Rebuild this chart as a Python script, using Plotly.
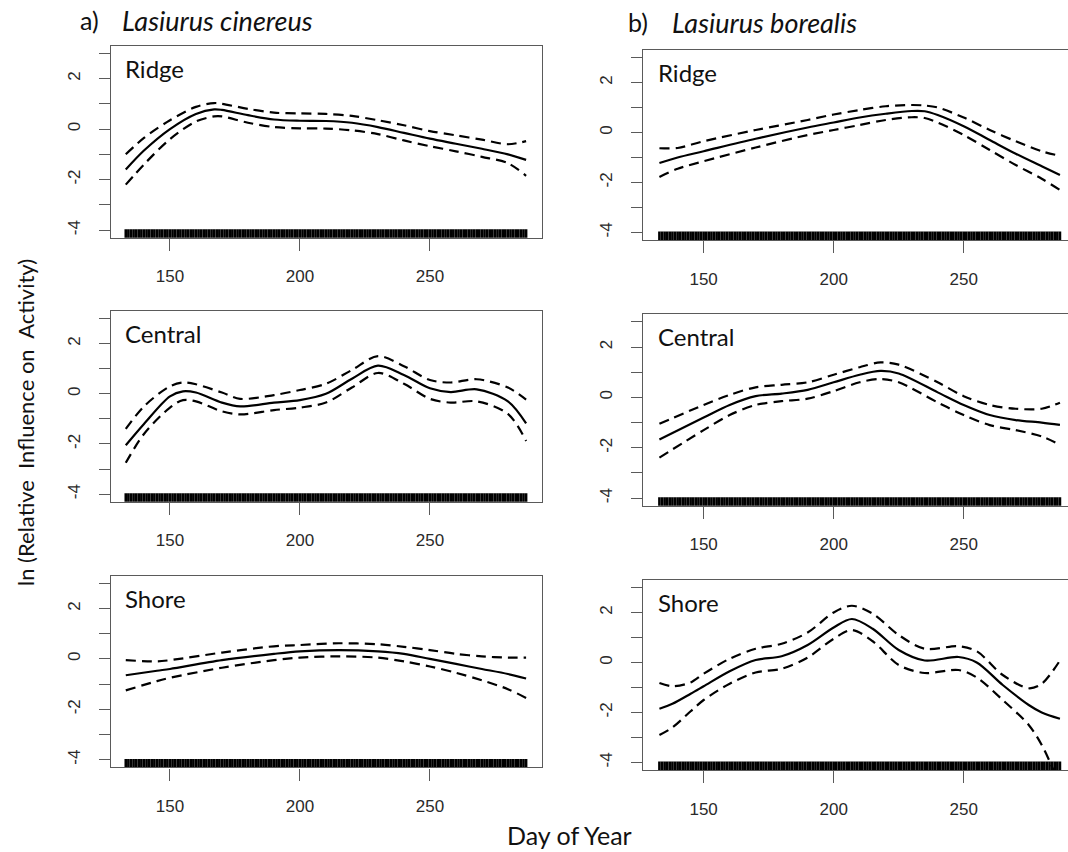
import plotly.graph_objects as go

# ---------------- data ----------------
FIRST_DAY = 133
LAST_DAY = 287
rug_days = list(range(FIRST_DAY, LAST_DAY + 1))

ytick_vals = [-4, -3, -2, -1, 0, 1, 2, 3]
ytick_text = ["-4", "", "-2", "", "0", "", "2", ""]
xtick_vals = [150, 200, 250]
xtick_text = ["150", "200", "250"]

species_titles = ["Lasiurus cinereus", "Lasiurus borealis"]
species_letters = ["a)", "b)"]
habitats = ["Ridge", "Central", "Shore"]

# a) Lasiurus cinereus - Ridge
a_ridge_x = [133, 140, 150, 160, 167, 170, 180, 190, 200, 210, 220, 230, 240, 250, 260, 270, 280, 287]
a_ridge_fit = [-1.6, -0.85, 0.0, 0.6, 0.78, 0.76, 0.55, 0.38, 0.33, 0.32, 0.25, 0.08, -0.15, -0.38, -0.58, -0.78, -1.0, -1.22]
a_ridge_up = [-1.0, -0.35, 0.35, 0.88, 1.03, 1.0, 0.8, 0.65, 0.62, 0.6, 0.52, 0.35, 0.15, -0.08, -0.25, -0.42, -0.6, -0.48]
a_ridge_lo = [-2.2, -1.4, -0.4, 0.3, 0.5, 0.5, 0.25, 0.08, 0.03, 0.02, -0.05, -0.2, -0.45, -0.68, -0.88, -1.1, -1.35, -1.85]

# a) Central
a_central_x = [133, 140, 150, 155, 160, 170, 177, 190, 200, 210, 220, 230, 240, 250, 258, 268, 280, 287]
a_central_fit = [-2.05, -1.2, -0.1, 0.1, 0.05, -0.35, -0.5, -0.35, -0.25, 0.0, 0.6, 1.12, 0.75, 0.22, 0.07, 0.18, -0.3, -1.18]
a_central_up = [-1.4, -0.5, 0.3, 0.45, 0.38, 0.05, -0.2, -0.05, 0.15, 0.4, 0.95, 1.5, 1.1, 0.55, 0.45, 0.58, 0.25, -0.23]
a_central_lo = [-2.75, -1.6, -0.55, -0.25, -0.3, -0.7, -0.82, -0.65, -0.55, -0.35, 0.25, 0.83, 0.4, -0.2, -0.35, -0.3, -0.8, -1.88]

# a) Shore
a_shore_x = [133, 145, 150, 170, 190, 200, 215, 230, 240, 250, 260, 270, 280, 287]
a_shore_fit = [-0.65, -0.47, -0.4, -0.05, 0.2, 0.3, 0.35, 0.3, 0.2, 0.0, -0.2, -0.4, -0.6, -0.78]
a_shore_up = [-0.05, -0.1, -0.05, 0.25, 0.5, 0.55, 0.62, 0.58, 0.48, 0.35, 0.2, 0.1, 0.05, 0.05]
a_shore_lo = [-1.25, -0.88, -0.75, -0.35, -0.05, 0.05, 0.1, 0.05, -0.1, -0.3, -0.55, -0.85, -1.2, -1.55]

# b) Lasiurus borealis - Ridge
b_ridge_x = [133, 140, 150, 170, 190, 200, 210, 220, 230, 235, 240, 250, 260, 270, 280, 287]
b_ridge_fit = [-1.22, -1.0, -0.75, -0.25, 0.2, 0.4, 0.6, 0.75, 0.86, 0.85, 0.7, 0.25, -0.3, -0.85, -1.35, -1.7]
b_ridge_up = [-0.63, -0.62, -0.35, 0.1, 0.5, 0.72, 0.9, 1.05, 1.1, 1.08, 1.0, 0.6, 0.1, -0.35, -0.75, -0.93]
b_ridge_lo = [-1.78, -1.45, -1.15, -0.6, -0.1, 0.1, 0.3, 0.5, 0.61, 0.58, 0.4, -0.1, -0.7, -1.3, -1.85, -2.3]

# b) Central
b_central_x = [133, 150, 160, 170, 180, 190, 200, 210, 218, 225, 240, 250, 260, 270, 280, 287]
b_central_fit = [-1.67, -0.8, -0.3, 0.05, 0.15, 0.3, 0.6, 0.9, 1.05, 0.95, 0.2, -0.3, -0.7, -0.9, -1.0, -1.09]
b_central_up = [-1.05, -0.3, 0.1, 0.4, 0.5, 0.6, 0.9, 1.2, 1.39, 1.3, 0.6, 0.05, -0.3, -0.45, -0.45, -0.21]
b_central_lo = [-2.39, -1.3, -0.7, -0.3, -0.15, -0.05, 0.25, 0.6, 0.73, 0.6, -0.2, -0.7, -1.1, -1.3, -1.55, -1.88]

# b) Shore
b_shore_x = [133, 138, 145, 150, 160, 170, 180, 190, 200, 207, 215, 225, 235, 248, 255, 265, 275, 280, 287]
b_shore_fit = [-1.85, -1.65, -1.25, -0.95, -0.35, 0.1, 0.25, 0.7, 1.4, 1.74, 1.35, 0.5, 0.08, 0.22, 0.0, -0.9, -1.7, -2.0, -2.25]
b_shore_up = [-0.82, -0.95, -0.8, -0.45, 0.15, 0.55, 0.75, 1.2, 2.0, 2.27, 1.95, 1.1, 0.55, 0.65, 0.45, -0.5, -1.03, -0.85, 0.08]
b_shore_lo = [-2.9, -2.6, -1.95, -1.5, -0.85, -0.4, -0.25, 0.2, 0.95, 1.3, 0.85, -0.1, -0.42, -0.3, -0.6, -1.5, -2.5, -3.3, -4.9]

panels = [
    [(a_ridge_x, a_ridge_fit, a_ridge_up, a_ridge_lo),
     (a_central_x, a_central_fit, a_central_up, a_central_lo),
     (a_shore_x, a_shore_fit, a_shore_up, a_shore_lo)],
    [(b_ridge_x, b_ridge_fit, b_ridge_up, b_ridge_lo),
     (b_central_x, b_central_fit, b_central_up, b_central_lo),
     (b_shore_x, b_shore_fit, b_shore_up, b_shore_lo)],
]

# ---------------- layout geometry (pixels) ----------------
W, H = 1068, 852
col_x = [(110.7, 541.7), (643.3, 1068.0)]
col_xrange = [[127.2, 293.0], [126.8, 290.1]]
row_y = [
    [(45.7, 237.7), (311.0, 501.7), (575.7, 767.3)],
    [(50.0, 240.0), (314.3, 505.7), (580.0, 770.0)],
]
YRANGE = [-4.3, 3.3]
AXCOL = "#5a5a5a"
TICKFONT = dict(family="Liberation Sans, Arial, sans-serif", size=17, color="#2a2a2a")
LABELFONT = "Lato, Carlito, Calibri, sans-serif"

fig = go.Figure()
layout = {}
annotations = []

idx = 0
for c in range(2):
    for r in range(3):
        idx += 1
        xa = "x" if idx == 1 else f"x{idx}"
        ya = "y" if idx == 1 else f"y{idx}"
        xs, fit, up, lo = panels[c][r]
        # rug
        fig.add_trace(go.Scatter(
            x=rug_days, y=[YRANGE[0]] * len(rug_days), mode="markers",
            marker=dict(symbol="line-ns", size=12, line=dict(width=2.6, color="black")),
            xaxis=xa, yaxis=ya, showlegend=False, hoverinfo="skip", cliponaxis=True))
        for ys, dash in ((up, "10px,6px"), (lo, "10px,6px"), (fit, "solid")):
            fig.add_trace(go.Scatter(
                x=xs, y=ys, mode="lines",
                line=dict(color="black", width=2.2, dash=dash, shape="spline", smoothing=0.9),
                xaxis=xa, yaxis=ya, showlegend=False, cliponaxis=True))
        x0, x1 = col_x[c]
        yt, yb = row_y[c][r]
        layout["xaxis" if idx == 1 else f"xaxis{idx}"] = dict(
            domain=[x0 / W, x1 / W], range=col_xrange[c], anchor=ya,
            tickvals=xtick_vals, ticktext=xtick_text, ticks="outside", ticklen=12,
            tickwidth=1.3, tickcolor=AXCOL, showline=True, linecolor=AXCOL, linewidth=1.4,
            mirror=True, showgrid=False, zeroline=False, tickfont=TICKFONT,
            ticklabelstandoff=11)
        layout["yaxis" if idx == 1 else f"yaxis{idx}"] = dict(
            domain=[1 - yb / H, 1 - yt / H], range=YRANGE, anchor=xa,
            tickvals=ytick_vals, ticktext=ytick_text, ticks="outside", ticklen=11,
            tickwidth=1.3, tickcolor=AXCOL, showline=True, linecolor=AXCOL, linewidth=1.4,
            mirror=(c == 0), showgrid=False, zeroline=False, tickfont=TICKFONT,
            tickangle=-90, ticklabelstandoff=12)
        # habitat label
        annotations.append(dict(
            text=habitats[r], xref="paper", yref="paper",
            x=(x0 + 12.5) / W, y=1 - (yt + 22.5) / H, xanchor="left", yanchor="middle",
            showarrow=False, font=dict(family=LABELFONT, size=24, color="#111111")))

# species titles
title_pos = [((78.0, 120.0), 20.5), ((626.3, 670.0), 22.0)]
for c in range(2):
    (lx, tx), ty = title_pos[c]
    annotations.append(dict(text=species_letters[c], xref="paper", yref="paper",
                            x=lx / W, y=1 - ty / H, xanchor="left", yanchor="middle",
                            showarrow=False, font=dict(family=LABELFONT, size=25, color="#111111")))
    annotations.append(dict(text=f"<i>{species_titles[c]}</i>", xref="paper", yref="paper",
                            x=tx / W, y=1 - ty / H, xanchor="left", yanchor="middle",
                            showarrow=False, font=dict(family=LABELFONT, size=27, color="#111111")))

# axis titles
annotations.append(dict(text="ln (Relative\u00a0 Influence on\u00a0 Activity)", xref="paper", yref="paper",
                        x=25 / W, y=1 - 423 / H, xanchor="center", yanchor="middle", textangle=-90,
                        showarrow=False, font=dict(family=LABELFONT, size=22, color="#111111")))
annotations.append(dict(text="Day of Year", xref="paper", yref="paper",
                        x=569 / W, y=1 - 835 / H, xanchor="center", yanchor="middle",
                        showarrow=False, font=dict(family=LABELFONT, size=25, color="#111111")))

fig.update_layout(
    width=W, height=H, margin=dict(l=0, r=0, t=0, b=0),
    paper_bgcolor="white", plot_bgcolor="white",
    annotations=annotations, **layout)

fig.write_html("out.html", config={"displayModeBar": False},
               post_script="document.body.style.margin='0';document.body.style.padding='0';document.body.style.overflow='hidden';")
